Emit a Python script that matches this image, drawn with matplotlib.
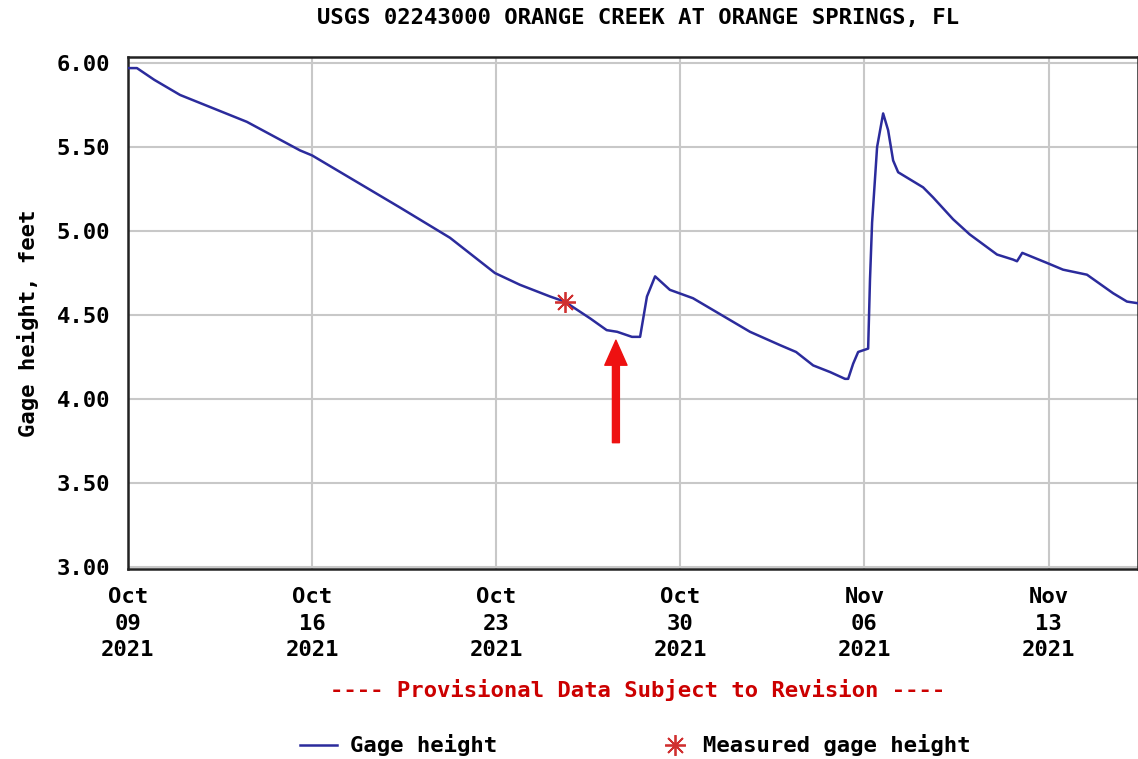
import numpy as np
import matplotlib
matplotlib.use("Agg")
import matplotlib.pyplot as plt
from matplotlib.lines import Line2D

# gage height: days since 2021-10-09 00:00, feet
days = [0.0, 0.34, 1.0, 1.98, 4.52, 6.54, 7.0, 10.34, 12.24, 13.95, 14.9, 16.05, 16.6,
        17.57, 18.2, 18.6, 19.16, 19.47, 19.73, 20.04, 20.6, 21.48, 23.65, 24.8,
        25.4, 26.05, 26.7, 27.26, 27.38, 27.57, 27.76, 28.14, 28.21, 28.29, 28.48,
        28.71, 28.9, 29.09, 29.28, 30.23, 30.61, 31.37, 32.0, 33.04, 33.65, 33.8,
        34.0, 34.94, 35.55, 36.46, 37.45, 37.98, 38.4]
gage = [5.97, 5.97, 5.90, 5.81, 5.65, 5.48, 5.45, 5.14, 4.96, 4.75, 4.68, 4.61, 4.58,
        4.48, 4.41, 4.40, 4.37, 4.37, 4.61, 4.73, 4.65, 4.60, 4.40, 4.32,
        4.28, 4.20, 4.16, 4.12, 4.12, 4.21, 4.28, 4.30, 4.71, 5.05, 5.50,
        5.70, 5.60, 5.42, 5.35, 5.26, 5.20, 5.07, 4.98, 4.86, 4.83, 4.82,
        4.87, 4.81, 4.77, 4.74, 4.63, 4.58, 4.57]

measured_day = [16.6]
measured_val = [4.58]

yticks = [3.0, 3.5, 4.0, 4.5, 5.0, 5.5, 6.0]
xtick_days = [0, 7, 14, 21, 28, 35]
xtick_labels = ["Oct\n09\n2021", "Oct\n16\n2021", "Oct\n23\n2021",
                "Oct\n30\n2021", "Nov\n06\n2021", "Nov\n13\n2021"]

start = np.datetime64("2021-10-09T00:00")
def to_time(d):
    return start + (np.array(d) * 24 * 60).astype("timedelta64[m]")

t = to_time(days)
tm = to_time(measured_day)

font = {"family": "DejaVu Sans Mono", "weight": "bold"}
fs = 16
blue = "#2b2b9c"
star = "#d03030"

fig = plt.figure(figsize=(11.38, 7.59), dpi=100)
ax = fig.add_axes([128 / 1138, 1 - 569 / 759, 1 - 128 / 1138, (569 - 57) / 759])

ax.plot(t, gage, color=blue, linewidth=1.8, zorder=3)
ax.plot(tm, measured_val, linestyle="none", marker=(8, 2, 0), markersize=15,
        markeredgewidth=1.3, color=star, zorder=4)

# red arrow
ax.annotate("", xy=(to_time([18.55])[0], 4.35), xytext=(to_time([18.55])[0], 3.74),
            arrowprops=dict(facecolor="#ee1111", edgecolor="#ee1111",
                            width=5, headwidth=16, headlength=18), zorder=5)

ax.set_ylim(2.988, 6.036)
ax.set_xlim(start, to_time([38.4])[0])
ax.set_yticks(yticks)
ax.set_yticklabels(["%.2f" % v for v in yticks], **font, fontsize=fs)
ax.set_xticks(to_time(xtick_days))
ax.set_xticklabels(xtick_labels, **font, fontsize=fs, linespacing=1.42)
ax.tick_params(axis="both", length=0)
ax.tick_params(axis="y", pad=13)
ax.tick_params(axis="x", pad=13)
ax.grid(True, color="#c8c8c8", linewidth=1.5)
ax.set_axisbelow(True)
for s in ax.spines.values():
    s.set_linewidth(1.8)
    s.set_color("#222222")

fig.text(28 / 1138, 1 - 323 / 759, "Gage height, feet", rotation=90,
         ha="center", va="center", **font, fontsize=fs)
fig.text(638 / 1138, 1 - 18 / 759, "USGS 02243000 ORANGE CREEK AT ORANGE SPRINGS, FL",
         ha="center", va="center", **font, fontsize=fs)
fig.text(638 / 1138, 1 - 690 / 759, "---- Provisional Data Subject to Revision ----",
         ha="center", va="center", color="#cc0000", **font, fontsize=fs)

# legend
fig.add_artist(Line2D([300 / 1138, 337 / 1138], [1 - 745 / 759] * 2,
                      color=blue, linewidth=1.8))
fig.text(350 / 1138, 1 - 745 / 759, "Gage height", ha="left", va="center",
         **font, fontsize=fs)
fig.add_artist(Line2D([675 / 1138], [1 - 745 / 759], linestyle="none",
                      marker=(8, 2, 0), markersize=15, markeredgewidth=1.3,
                      color=star))
fig.text(703 / 1138, 1 - 745 / 759, "Measured gage height", ha="left", va="center",
         **font, fontsize=fs)

plt.savefig("out.png", dpi=100)
